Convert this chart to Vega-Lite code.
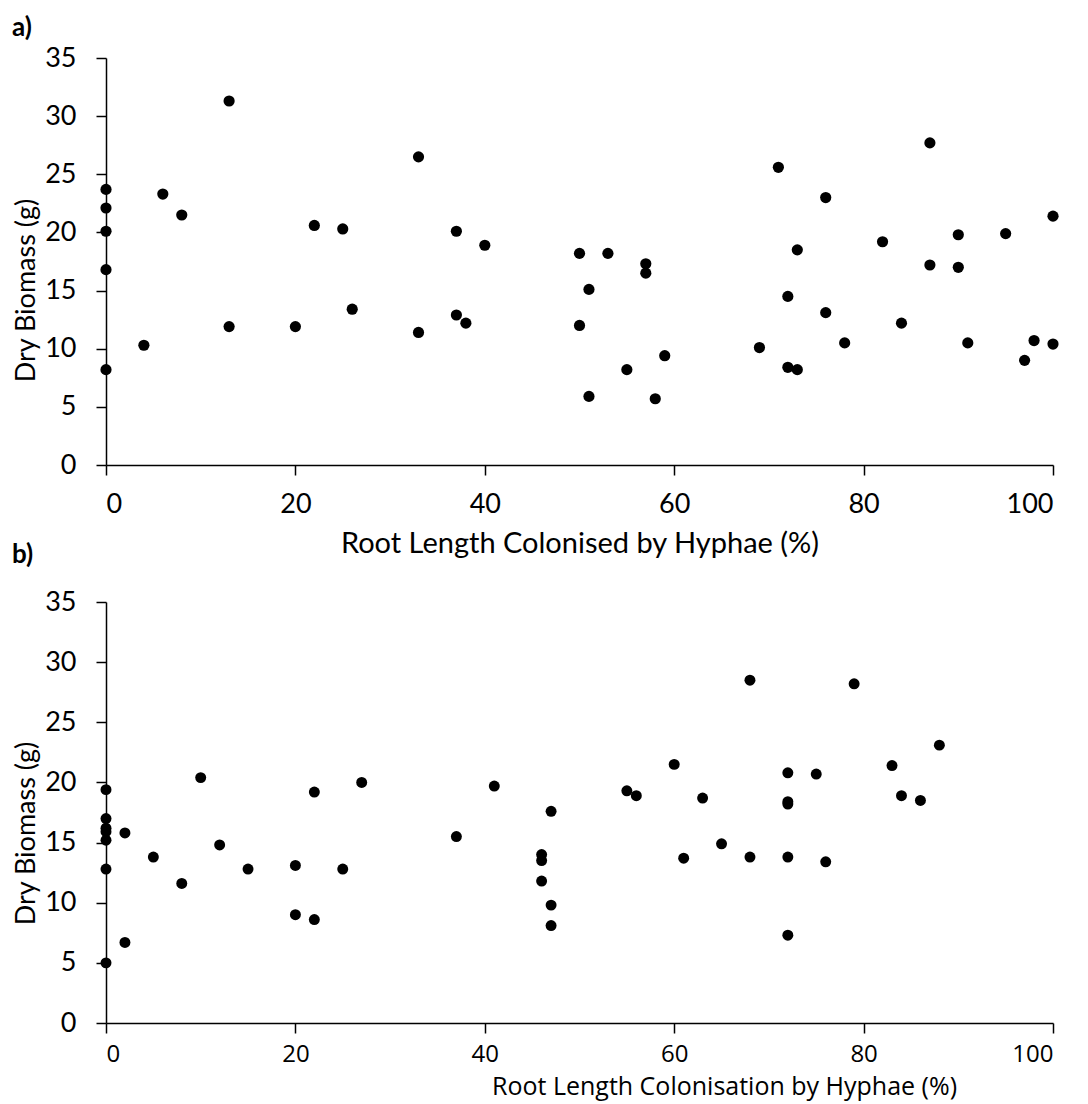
{
  "$schema": "https://vega.github.io/schema/vega-lite/v6.json",
  "background": "white",
  "padding": {"left": 12, "top": 15, "right": 20, "bottom": 6},
  "config": {
    "font": "Lato",
    "view": {"stroke": null},
    "axis": {
      "grid": false,
      "domainColor": "#000000",
      "domainWidth": 1.5,
      "tickColor": "#000000",
      "tickWidth": 1.5,
      "tickSize": 10,
      "labelColor": "#000000",
      "labelFont": "Lato",
      "labelFontSize": 27,
      "titleColor": "#000000",
      "titleFont": "Lato",
      "titleFontSize": 27,
      "titleFontWeight": "normal"
    },
    "title": {"font": "Lato", "fontWeight": "bold", "fontSize": 26, "color": "#000000"}
  },
  "datasets": {
    "hyphae_a": [
      {"colonisation": 0, "biomass": 23.7}, {"colonisation": 0, "biomass": 22.1},
      {"colonisation": 0, "biomass": 20.1}, {"colonisation": 0, "biomass": 16.8},
      {"colonisation": 0, "biomass": 8.2}, {"colonisation": 4, "biomass": 10.3},
      {"colonisation": 6, "biomass": 23.3}, {"colonisation": 8, "biomass": 21.5},
      {"colonisation": 13, "biomass": 31.3}, {"colonisation": 13, "biomass": 11.9},
      {"colonisation": 20, "biomass": 11.9}, {"colonisation": 22, "biomass": 20.6},
      {"colonisation": 25, "biomass": 20.3}, {"colonisation": 26, "biomass": 13.4},
      {"colonisation": 33, "biomass": 26.5}, {"colonisation": 33, "biomass": 11.4},
      {"colonisation": 37, "biomass": 20.1}, {"colonisation": 37, "biomass": 12.9},
      {"colonisation": 38, "biomass": 12.2}, {"colonisation": 40, "biomass": 18.9},
      {"colonisation": 50, "biomass": 18.2}, {"colonisation": 50, "biomass": 12.0},
      {"colonisation": 51, "biomass": 15.1}, {"colonisation": 51, "biomass": 5.9},
      {"colonisation": 53, "biomass": 18.2}, {"colonisation": 57, "biomass": 17.3},
      {"colonisation": 57, "biomass": 16.5}, {"colonisation": 59, "biomass": 9.4},
      {"colonisation": 55, "biomass": 8.2}, {"colonisation": 58, "biomass": 5.7},
      {"colonisation": 69, "biomass": 10.1}, {"colonisation": 71, "biomass": 25.6},
      {"colonisation": 72, "biomass": 14.5}, {"colonisation": 72, "biomass": 8.4},
      {"colonisation": 73, "biomass": 8.2}, {"colonisation": 73, "biomass": 18.5},
      {"colonisation": 76, "biomass": 23.0}, {"colonisation": 76, "biomass": 13.1},
      {"colonisation": 78, "biomass": 10.5}, {"colonisation": 82, "biomass": 19.2},
      {"colonisation": 84, "biomass": 12.2}, {"colonisation": 87, "biomass": 27.7},
      {"colonisation": 87, "biomass": 17.2}, {"colonisation": 90, "biomass": 19.8},
      {"colonisation": 90, "biomass": 17.0}, {"colonisation": 91, "biomass": 10.5},
      {"colonisation": 95, "biomass": 19.9}, {"colonisation": 97, "biomass": 9.0},
      {"colonisation": 98, "biomass": 10.7}, {"colonisation": 100, "biomass": 21.4},
      {"colonisation": 100, "biomass": 10.4}
    ],
    "hyphae_b": [
      {"colonisation": 0, "biomass": 19.4}, {"colonisation": 0, "biomass": 17.0},
      {"colonisation": 0, "biomass": 16.2}, {"colonisation": 0, "biomass": 15.9},
      {"colonisation": 0, "biomass": 15.2}, {"colonisation": 0, "biomass": 12.8},
      {"colonisation": 0, "biomass": 5.0}, {"colonisation": 2, "biomass": 15.8},
      {"colonisation": 2, "biomass": 6.7}, {"colonisation": 5, "biomass": 13.8},
      {"colonisation": 8, "biomass": 11.6}, {"colonisation": 10, "biomass": 20.4},
      {"colonisation": 12, "biomass": 14.8}, {"colonisation": 15, "biomass": 12.8},
      {"colonisation": 20, "biomass": 13.1}, {"colonisation": 20, "biomass": 9.0},
      {"colonisation": 22, "biomass": 19.2}, {"colonisation": 22, "biomass": 8.6},
      {"colonisation": 25, "biomass": 12.8}, {"colonisation": 27, "biomass": 20.0},
      {"colonisation": 37, "biomass": 15.5}, {"colonisation": 41, "biomass": 19.7},
      {"colonisation": 46, "biomass": 14.0}, {"colonisation": 46, "biomass": 13.5},
      {"colonisation": 46, "biomass": 11.8}, {"colonisation": 47, "biomass": 17.6},
      {"colonisation": 47, "biomass": 9.8}, {"colonisation": 47, "biomass": 8.1},
      {"colonisation": 55, "biomass": 19.3}, {"colonisation": 56, "biomass": 18.9},
      {"colonisation": 60, "biomass": 21.5}, {"colonisation": 61, "biomass": 13.7},
      {"colonisation": 63, "biomass": 18.7}, {"colonisation": 65, "biomass": 14.9},
      {"colonisation": 68, "biomass": 28.5}, {"colonisation": 68, "biomass": 13.8},
      {"colonisation": 72, "biomass": 20.8}, {"colonisation": 72, "biomass": 18.4},
      {"colonisation": 72, "biomass": 18.2}, {"colonisation": 72, "biomass": 13.8},
      {"colonisation": 72, "biomass": 7.3}, {"colonisation": 75, "biomass": 20.7},
      {"colonisation": 76, "biomass": 13.4}, {"colonisation": 79, "biomass": 28.2},
      {"colonisation": 83, "biomass": 21.4}, {"colonisation": 84, "biomass": 18.9},
      {"colonisation": 86, "biomass": 18.5}, {"colonisation": 88, "biomass": 23.1}
    ]
  },
  "bounds": "flush",
  "spacing": 137,
  "vconcat": [
    {
      "title": {"text": "a)", "anchor": "start", "frame": "group", "offset": 3, "dx": -94},
      "width": 947,
      "height": 407,
      "data": {"name": "hyphae_a"},
      "mark": {"type": "circle", "color": "#000000", "opacity": 1, "size": 125},
      "encoding": {
        "x": {
          "field": "colonisation", "type": "quantitative",
          "scale": {"domain": [0, 100], "nice": false, "zero": false},
          "axis": {
            "title": "Root Length Colonised by Hyphae (%)",
            "values": [0, 20, 40, 60, 80, 100],
            "labelPadding": 16,
            "titleFontSize": 29,
            "titleY": 78, "titleBaseline": "middle"
          }
        },
        "y": {
          "field": "biomass", "type": "quantitative",
          "scale": {"domain": [0, 35], "nice": false},
          "axis": {
            "title": "Dry Biomass (g)",
            "values": [0, 5, 10, 15, 20, 25, 30, 35],
            "labelPadding": 20,
            "titleX": -80, "titleY": 232, "titleBaseline": "middle", "titleAlign": "center"
          }
        }
      }
    },
    {
      "title": {"text": "b)", "anchor": "start", "frame": "group", "offset": 20, "dx": -94},
      "width": 947,
      "height": 421,
      "data": {"name": "hyphae_b"},
      "mark": {"type": "circle", "color": "#000000", "opacity": 1, "size": 120},
      "encoding": {
        "x": {
          "field": "colonisation", "type": "quantitative",
          "scale": {"domain": [0, 100], "nice": false, "zero": false},
          "axis": {
            "title": "Root Length Colonisation by Hyphae (%)",
            "values": [0, 20, 40, 60, 80, 100],
            "labelPadding": 9,
            "labelFont": "Open Sans",
            "labelFontSize": 24,
            "titleFont": "Open Sans",
            "titleFontSize": 25,
            "titleX": 618, "titleY": 63, "titleBaseline": "middle", "titleAlign": "center"
          }
        },
        "y": {
          "field": "biomass", "type": "quantitative",
          "scale": {"domain": [0, 35], "nice": false},
          "axis": {
            "title": "Dry Biomass (g)",
            "values": [0, 5, 10, 15, 20, 25, 30, 35],
            "labelPadding": 20,
            "titleX": -80, "titleY": 231, "titleBaseline": "middle", "titleAlign": "center"
          }
        }
      }
    }
  ]
}
